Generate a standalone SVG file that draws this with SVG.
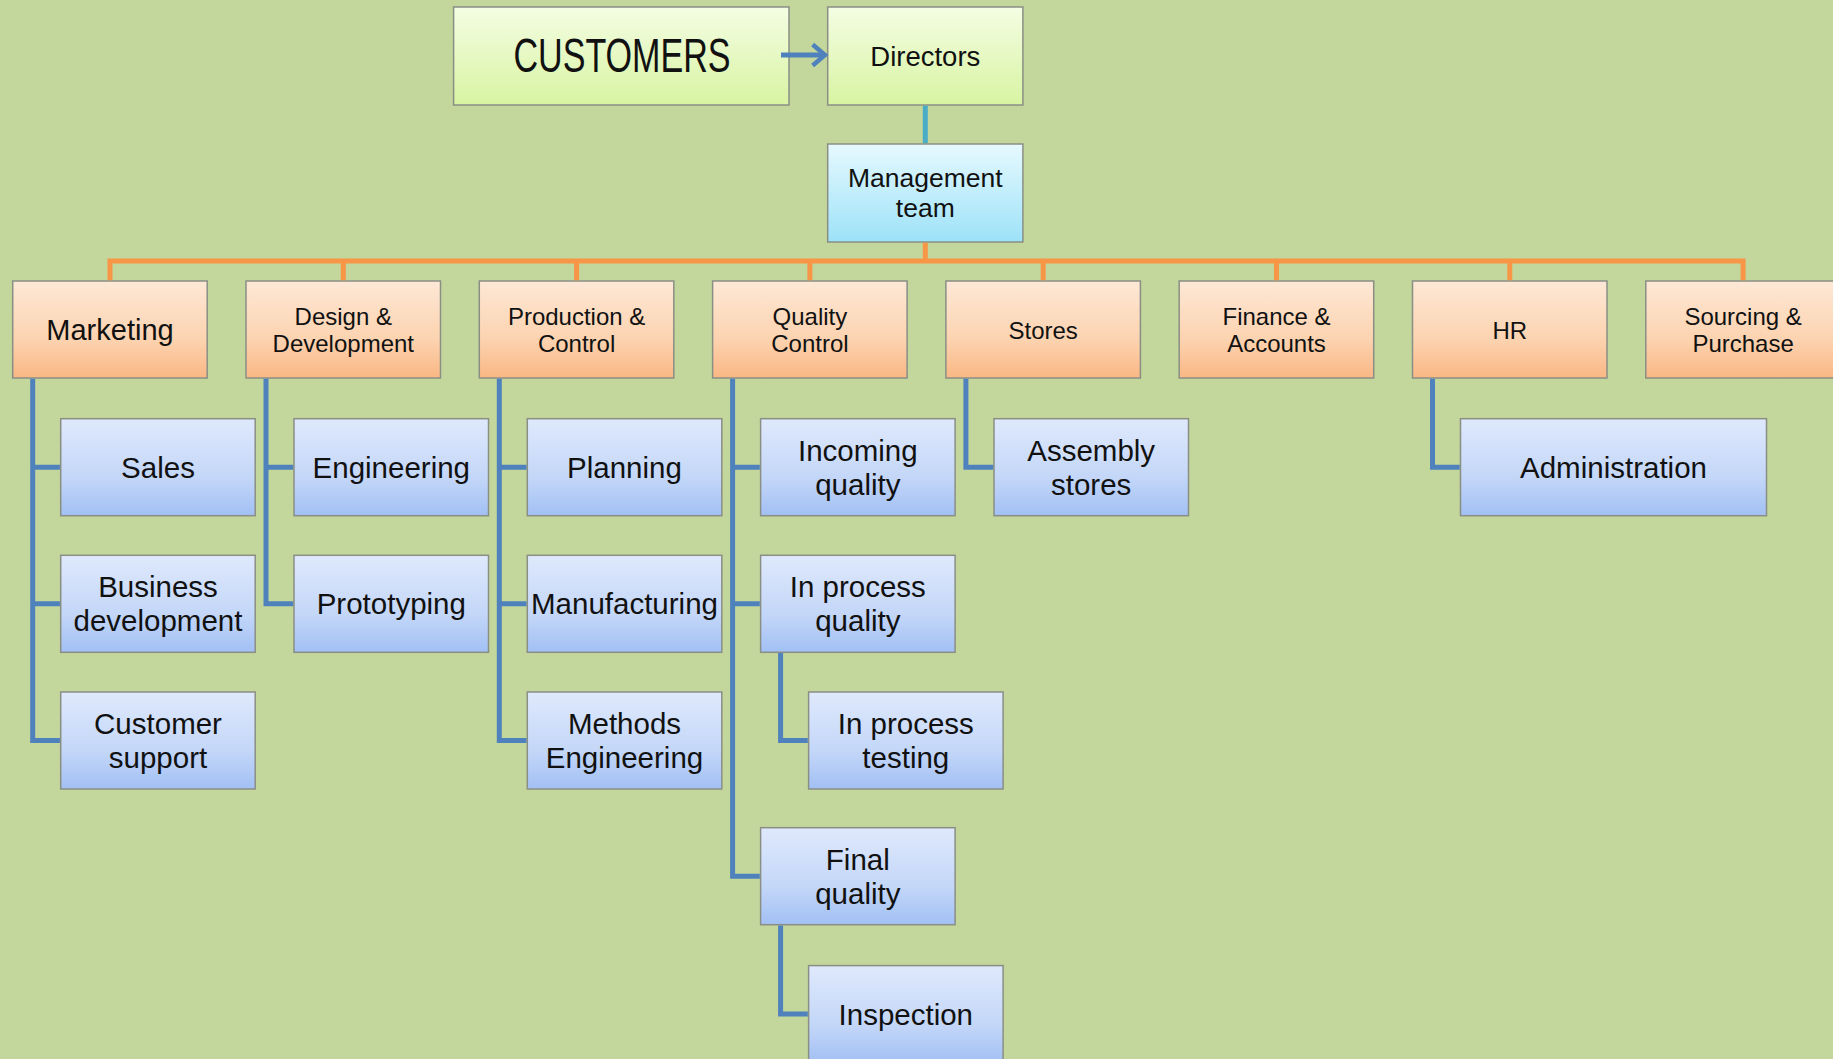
<svg xmlns="http://www.w3.org/2000/svg" width="1833" height="1059" viewBox="0 0 1833 1059">
<style>
.box{stroke:#8a8f86;stroke-width:1.5}
.g{fill:url(#gGreen)}
.c{fill:url(#gCyan)}
.o{fill:url(#gOrange)}
.b{fill:url(#gBlue)}
text{font-family:"Liberation Sans",Arial,sans-serif;fill:#111;text-anchor:middle;dominant-baseline:central}
.t24{font-size:24px}
.t26{font-size:26.5px}
.t29{font-size:29.5px}
.line{fill:none;stroke-width:5;stroke-linejoin:miter;stroke-linecap:butt}
.blue{stroke:#4f81bd}
.orange{stroke:#f79646}
.teal{stroke:#4bacc6}
</style>
<defs>
<linearGradient id="gGreen" x1="0" y1="0" x2="0" y2="1"><stop offset="0" stop-color="#f4fde3"/><stop offset="1" stop-color="#d8f4a2"/></linearGradient>
<linearGradient id="gCyan" x1="0" y1="0" x2="0" y2="1"><stop offset="0" stop-color="#e6f9fe"/><stop offset="1" stop-color="#9de2f8"/></linearGradient>
<linearGradient id="gOrange" x1="0" y1="0" x2="0" y2="1"><stop offset="0" stop-color="#fde8d6"/><stop offset="0.6" stop-color="#fcd3b0"/><stop offset="1" stop-color="#fab784"/></linearGradient>
<linearGradient id="gBlue" x1="0" y1="0" x2="0" y2="1"><stop offset="0" stop-color="#dfe9fc"/><stop offset="0.6" stop-color="#c4d7f8"/><stop offset="1" stop-color="#a2c0f4"/></linearGradient>
<marker id="arrow" viewBox="0 0 12 12" refX="10" refY="6" markerWidth="5.4" markerHeight="5.4" orient="auto" markerUnits="strokeWidth">
<path d="M4.5 1.3 L10 6 L4.5 10.7" fill="none" stroke="#4f81bd" stroke-width="2"/>
</marker>
</defs>
<rect x="0" y="0" width="1833" height="1059" fill="#c3d69b"/>

<g id="customers"><rect class="box g" x="453.6" y="7" width="335.4" height="98"/><text x="622" y="55" font-size="48" textLength="217" lengthAdjust="spacingAndGlyphs">CUSTOMERS</text></g>
<g id="directors"><rect class="box g" x="827.7" y="7" width="195.2" height="98"/><text x="925.3" y="56" font-size="27.5">Directors</text></g>
<g id="management"><rect class="box c" x="827.7" y="144" width="195.2" height="98"/><text class="t26" x="925.3" y="178">Management</text><text class="t26" x="925.3" y="208">team</text></g>

<g id="marketing"><rect class="box o" x="12.7" y="281" width="194.5" height="97"/><text x="110" y="330" font-size="29">Marketing</text></g>
<g id="design"><rect class="box o" x="246" y="281" width="194.5" height="97"/><text class="t24" x="343.3" y="316">Design &amp;</text><text class="t24" x="343.3" y="343">Development</text></g>
<g id="production"><rect class="box o" x="479.3" y="281" width="194.5" height="97"/><text class="t24" x="576.6" y="316">Production &amp;</text><text class="t24" x="576.6" y="343">Control</text></g>
<g id="quality"><rect class="box o" x="712.6" y="281" width="194.5" height="97"/><text class="t24" x="809.9" y="316">Quality</text><text class="t24" x="809.9" y="343">Control</text></g>
<g id="stores"><rect class="box o" x="945.9" y="281" width="194.5" height="97"/><text class="t24" x="1043.2" y="330">Stores</text></g>
<g id="finance"><rect class="box o" x="1179.2" y="281" width="194.5" height="97"/><text class="t24" x="1276.5" y="316">Finance &amp;</text><text class="t24" x="1276.5" y="343">Accounts</text></g>
<g id="hr"><rect class="box o" x="1412.5" y="281" width="194.5" height="97"/><text class="t24" x="1509.8" y="330">HR</text></g>
<g id="sourcing"><rect class="box o" x="1645.8" y="281" width="194.5" height="97"/><text class="t24" x="1743.1" y="316">Sourcing &amp;</text><text class="t24" x="1743.1" y="343">Purchase</text></g>

<g id="sales"><rect class="box b" x="60.7" y="418.7" width="194.5" height="97"/><text class="t29" x="158" y="467.2">Sales</text></g>
<g id="business-development"><rect class="box b" x="60.7" y="555.3" width="194.5" height="97"/><text class="t29" x="158" y="586.8">Business</text><text class="t29" x="158" y="620.8">development</text></g>
<g id="customer-support"><rect class="box b" x="60.7" y="692" width="194.5" height="97"/><text class="t29" x="158" y="723.5">Customer</text><text class="t29" x="158" y="757.5">support</text></g>

<g id="engineering"><rect class="box b" x="294" y="418.7" width="194.5" height="97"/><text class="t29" x="391.3" y="467.2">Engineering</text></g>
<g id="prototyping"><rect class="box b" x="294" y="555.3" width="194.5" height="97"/><text class="t29" x="391.3" y="603.8">Prototyping</text></g>

<g id="planning"><rect class="box b" x="527.3" y="418.7" width="194.5" height="97"/><text class="t29" x="624.5" y="467.2">Planning</text></g>
<g id="manufacturing"><rect class="box b" x="527.3" y="555.3" width="194.5" height="97"/><text class="t29" x="624.5" y="603.8">Manufacturing</text></g>
<g id="methods-engineering"><rect class="box b" x="527.3" y="692" width="194.5" height="97"/><text class="t29" x="624.5" y="723.5">Methods</text><text class="t29" x="624.5" y="757.5">Engineering</text></g>

<g id="incoming-quality"><rect class="box b" x="760.6" y="418.7" width="194.5" height="97"/><text class="t29" x="857.8" y="450.2">Incoming</text><text class="t29" x="857.8" y="484.2">quality</text></g>
<g id="in-process-quality"><rect class="box b" x="760.6" y="555.3" width="194.5" height="97"/><text class="t29" x="857.8" y="586.8">In process</text><text class="t29" x="857.8" y="620.8">quality</text></g>
<g id="in-process-testing"><rect class="box b" x="808.6" y="692" width="194.5" height="97"/><text class="t29" x="905.8" y="723.5">In process</text><text class="t29" x="905.8" y="757.5">testing</text></g>
<g id="final-quality"><rect class="box b" x="760.6" y="827.7" width="194.5" height="97"/><text class="t29" x="857.8" y="859.2">Final</text><text class="t29" x="857.8" y="893.2">quality</text></g>
<g id="inspection"><rect class="box b" x="808.6" y="965.6" width="194.5" height="97"/><text class="t29" x="905.8" y="1014">Inspection</text></g>

<g id="assembly-stores"><rect class="box b" x="994" y="418.7" width="194.5" height="97"/><text class="t29" x="1091.2" y="450.2">Assembly</text><text class="t29" x="1091.2" y="484.2">stores</text></g>
<g id="administration"><rect class="box b" x="1460.5" y="418.7" width="306" height="97"/><text class="t29" x="1613.5" y="467.2">Administration</text></g>

<g id="connectors">
<path class="line blue" d="M781 55 H825" marker-end="url(#arrow)"/>
<path class="line teal" d="M925.3 105.8 V143.2"/>
<path class="line orange" d="M925.3 242.8 V261"/>
<path class="line orange" d="M110 280.2 V261 H1743.1 V280.2"/>
<path class="line orange" d="M343.3 261 V280.2 M576.6 261 V280.2 M809.9 261 V280.2 M1043.2 261 V280.2 M1276.5 261 V280.2 M1509.8 261 V280.2"/>
<path class="line blue" d="M32.7 378.8 V740.5 H59.9 M32.7 467.2 H59.9 M32.7 603.8 H59.9"/>
<path class="line blue" d="M266 378.8 V603.8 H293.2 M266 467.2 H293.2"/>
<path class="line blue" d="M499.3 378.8 V740.5 H526.5 M499.3 467.2 H526.5 M499.3 603.8 H526.5"/>
<path class="line blue" d="M732.6 378.8 V876.2 H759.8 M732.6 467.2 H759.8 M732.6 603.8 H759.8"/>
<path class="line blue" d="M780.6 653.1 V740.5 H807.8"/>
<path class="line blue" d="M780.6 925.5 V1014 H807.8"/>
<path class="line blue" d="M965.9 378.8 V467.2 H993.2"/>
<path class="line blue" d="M1432.5 378.8 V467.2 H1459.7"/>
</g>
</svg>
